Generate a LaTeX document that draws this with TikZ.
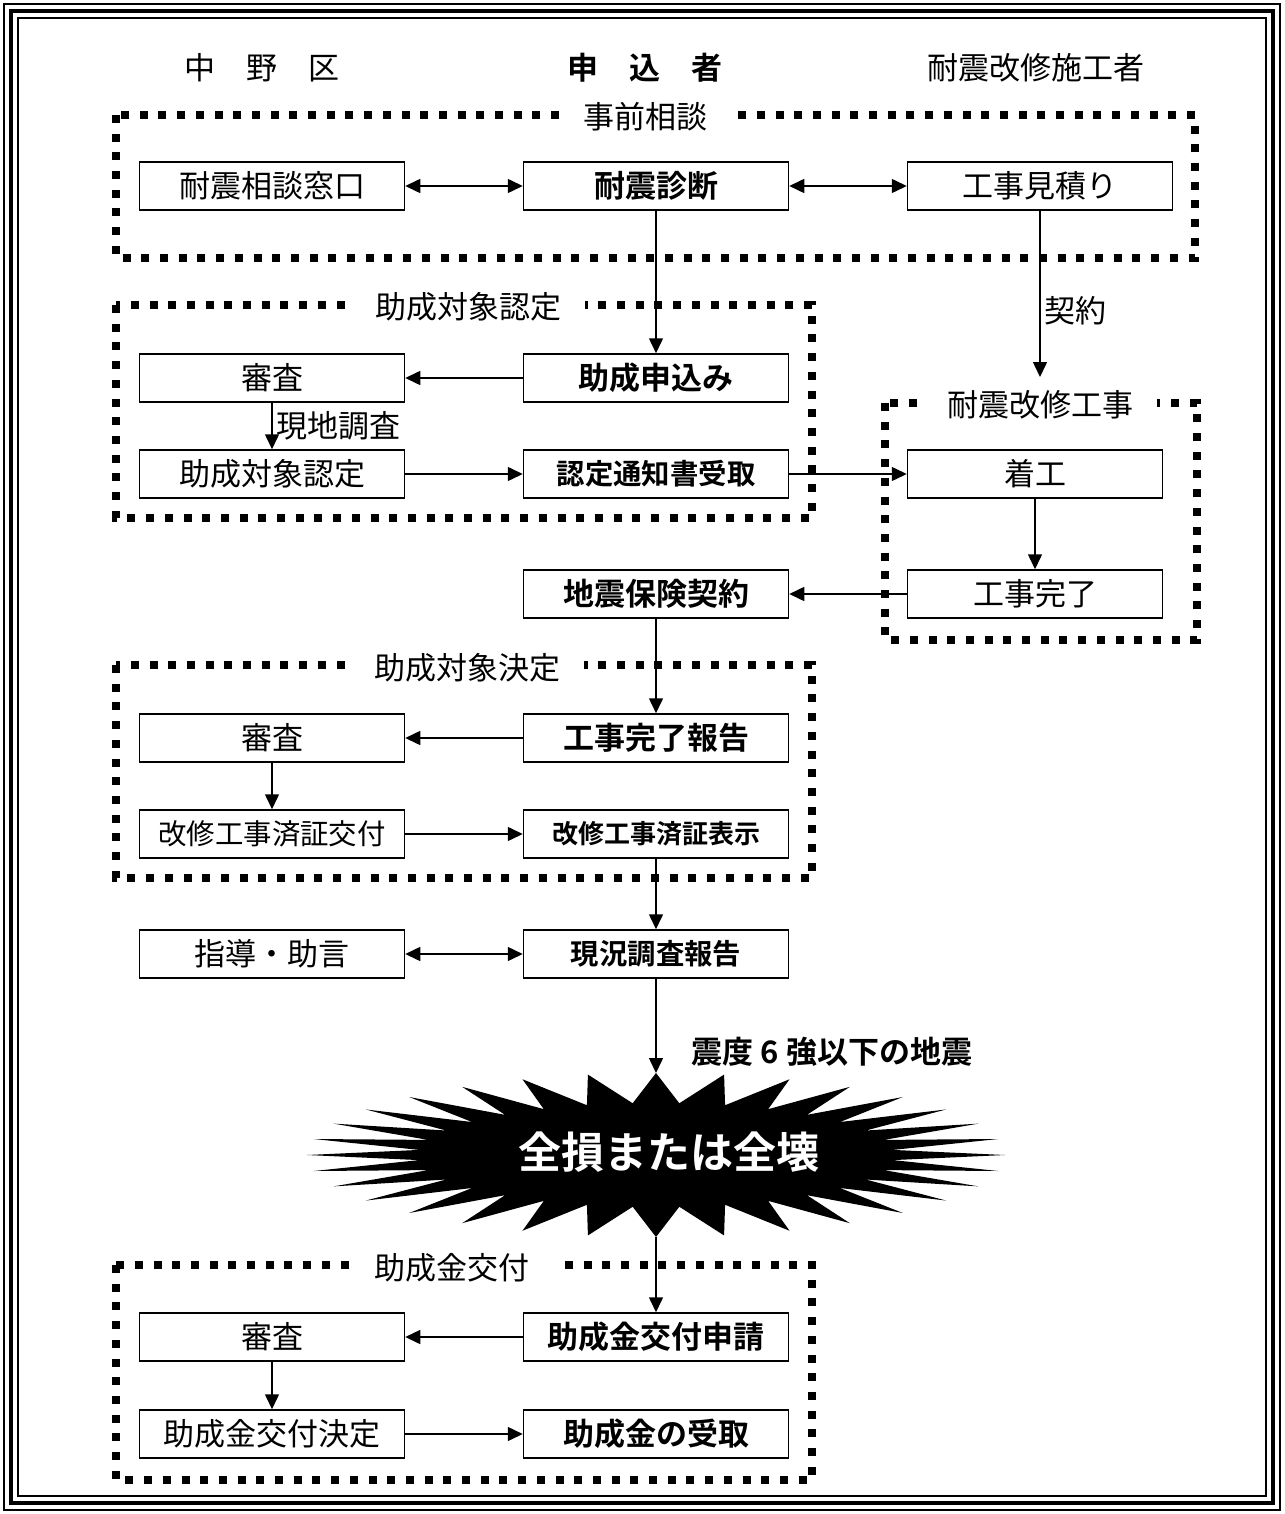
\documentclass[tikz,border=0pt]{standalone}
\usepackage{fontspec}
\setmainfont{Noto Sans CJK JP}[BoldFont={Noto Sans CJK JP Bold}]
\usetikzlibrary{arrows.meta}

\newcommand{\fnorm}{\fontsize{15.5pt}{18pt}\selectfont}
\newcommand{\fsml}{\fontsize{14.2pt}{17pt}\selectfont}
\newcommand{\fxsml}{\fontsize{13pt}{16pt}\selectfont}

\begin{document}
\begin{tikzpicture}[x=0.5pt,y=-0.5pt,
    box/.style={draw,line width=0.75pt,minimum width=132.5pt,minimum height=24pt,inner sep=0pt,font=\fnorm},
    bbox/.style={box,font=\fnorm\bfseries},
    group/.style={line width=4pt,dash pattern=on 4pt off 5.35pt},
    glabel/.style={fill=white,inner xsep=12pt,inner ysep=2pt,font=\fnorm},
    arr/.style={line width=0.75pt,-{Triangle[length=7.5pt,width=7pt]}},
    darr/.style={line width=0.75pt,{Triangle[length=7.5pt,width=7pt]}-{Triangle[length=7.5pt,width=7pt]}}]
            \useasboundingbox (0,0) rectangle (1284,1514);
            % frame
            \draw[line width=0.6pt] (4,4) rectangle (1280,1510);
            \draw[line width=2pt] (11,11) rectangle (1273,1503);
            \draw[line width=0.6pt] (18,18) rectangle (1266,1496);
            % headings
            \node[font=\fnorm] (hku) at (262,68) {中　野　区};
            \node[font=\fnorm\bfseries] (hmo) at (645,68) {申　込　者};
            \node[font=\fnorm] (hse) at (1036,68) {耐震改修施工者};
            % groups
            \draw[group] (116,115) rectangle (1195,258);
            \node[glabel] (g1) at (645,117) {事前相談};
            \draw[group] (116,305) rectangle (812,518);
            \node[glabel] (g2) at (468,307) {助成対象認定};
            \draw[group] (885,403) rectangle (1197,640);
            \node[glabel] (g3) at (1040,405) {耐震改修工事};
            \draw[group] (116,665) rectangle (812,878);
            \node[glabel] (g4) at (467,668) {助成対象決定};
            \draw[group] (116,1265) rectangle (812,1480);
            \node[glabel] (g5) at (452,1268) {助成金交付};
            % boxes
            \node[box] (madoguchi) at (272,186) {耐震相談窓口};
            \node[bbox] (shindan) at (656,186) {耐震診断};
            \node[box] (mitsumori) at (1040,186) {工事見積り};
            \node[box] (shinsa1) at (272,378) {審査};
            \node[bbox] (moushikomi) at (656,378) {助成申込み};
            \node[box] (nintei) at (272,474) {助成対象認定};
            \node[bbox,font=\fsml\bfseries] (tsuchi) at (656,474) {認定通知書受取};
            \node[box,minimum width=127.5pt] (chakko) at (1035,474) {着工};
            \node[box,minimum width=127.5pt] (kanryo) at (1035,594) {工事完了};
            \node[bbox] (hoken) at (656,594) {地震保険契約};
            \node[box] (shinsa2) at (272,738) {審査};
            \node[bbox] (hokoku) at (656,738) {工事完了報告};
            \node[box,font=\fsml] (kofu) at (272,834) {改修工事済証交付};
            \node[bbox,font=\fxsml\bfseries] (hyoji) at (656,834) {改修工事済証表示};
            \node[box] (shido) at (272,954) {指導・助言};
            \node[bbox,font=\fsml\bfseries] (genkyo) at (656,954) {現況調査報告};
            \node[box] (shinsa3) at (272,1337) {審査};
            \node[bbox] (shinsei) at (656,1337) {助成金交付申請};
            \node[box] (kettei) at (272,1434) {助成金交付決定};
            \node[bbox] (uketori) at (656,1434) {助成金の受取};
            % burst
            \fill (1005,1155) \foreach \i in {1,...,32} {
                -- ({656+238*cos(11.25*\i-5.625)},{1155+52*sin(11.25*\i-5.625)})
                -- ({656+349*cos(11.25*\i)},{1155+82*sin(11.25*\i)}) } -- cycle;
            \node[text=white,font=\fontsize{21.5pt}{24pt}\selectfont\bfseries] (burst) at (669,1152) {全損または全壊};
            \coordinate (bursttop) at (656,1073);
            \coordinate (burstbot) at (656,1237);
            \coordinate (keiyaku) at (1040,377);
            % connectors
            \draw[darr] (madoguchi) -- (shindan);
            \draw[darr] (shindan) -- (mitsumori);
            \draw[arr] (shindan) -- (moushikomi);
            \draw[arr] (mitsumori) -- (keiyaku) node[pos=0.6,right,inner sep=2pt,font=\fnorm]{契約};
            \draw[arr] (moushikomi) -- (shinsa1);
            \draw[arr] (shinsa1) -- (nintei) node[midway,right,inner sep=2pt,font=\fnorm]{現地調査};
            \draw[arr] (nintei) -- (tsuchi);
            \draw[arr] (tsuchi) -- (chakko);
            \draw[arr] (chakko) -- (kanryo);
            \draw[arr] (kanryo) -- (hoken);
            \draw[arr] (hoken) -- (hokoku);
            \draw[arr] (hokoku) -- (shinsa2);
            \draw[arr] (shinsa2) -- (kofu);
            \draw[arr] (kofu) -- (hyoji);
            \draw[arr] (hyoji) -- (genkyo);
            \draw[darr] (shido) -- (genkyo);
            \draw[arr] (genkyo) -- (bursttop);
            \node[font=\fnorm\bfseries] (shindo) at (832,1052) {震度 6 強以下の地震};
            \draw[arr] (burstbot) -- (shinsei);
            \draw[arr] (shinsei) -- (shinsa3);
            \draw[arr] (shinsa3) -- (kettei);
            \draw[arr] (kettei) -- (uketori);
\end{tikzpicture}
\end{document}
